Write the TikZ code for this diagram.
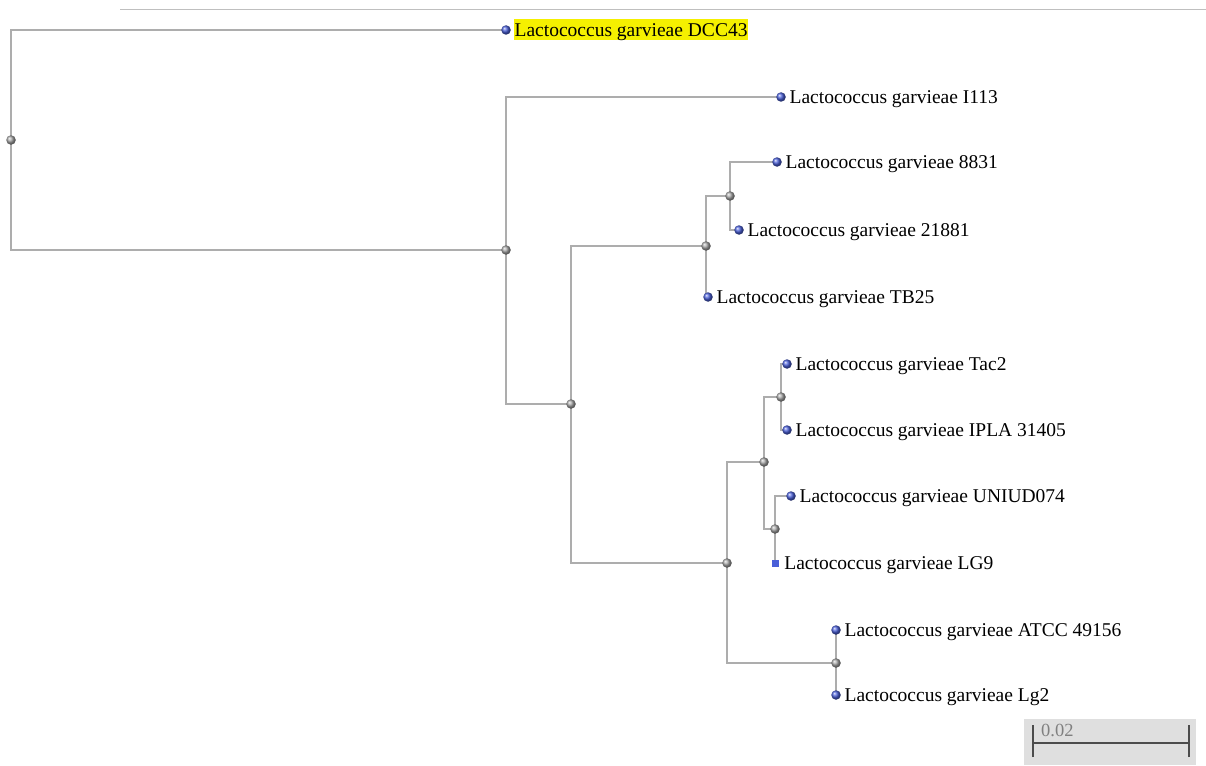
\documentclass[tikz,border=0pt]{standalone}
\usepackage{fontspec}
\setmainfont{Liberation Serif}
\usetikzlibrary{positioning,backgrounds,shadings}
\definecolor{branchgray}{HTML}{ADADAD}
\definecolor{leafblue}{HTML}{4A5FD8}
\definecolor{hilite}{HTML}{F5F000}
\tikzset{
  inner/.style={circle, inner sep=0pt, minimum size=9.5pt, ball color=gray!70},
  leaf/.style={circle, inner sep=0pt, minimum size=9.5pt, ball color=leafblue},
  leafsq/.style={rectangle, inner sep=0pt, minimum size=7pt, fill=leafblue},
  branch/.style={draw=branchgray, line width=1.2pt},
  taxon/.style={inner sep=1pt, font=\fontsize{19.5}{21}\selectfont, text height=16pt, text depth=3pt}
}
\newcommand{\Taxon}[3][]{\node[taxon, right=2.5pt of #2, #1] (#2-t) {#3};}

\begin{document}
\begin{tikzpicture}[x=1pt,y=-1pt]
\useasboundingbox (0,0) rectangle (1206,765);
\draw[draw=gray!50, line width=1pt] (120,9.5) -- (1206,9.5);

\node[inner] (root) at (11,140) {};
	\node[leaf] (dcc) at (506,30) {};
	\node[inner] (n1) at (506,250) {};
	\node[leaf] (i113) at (781,97) {};
	\node[inner] (n2) at (571,404) {};
	\node[inner] (n3) at (706,246) {};
	\node[inner] (n4) at (730,196) {};
	\node[leaf] (s8831) at (777,162) {};
	\node[leaf] (s21881) at (739,230) {};
	\node[leaf] (tb25) at (708,297) {};
	\node[inner] (n5) at (727,563) {};
	\node[inner] (n6) at (764,462) {};
	\node[inner] (n7) at (781,397) {};
	\node[leaf] (tac2) at (787,364) {};
	\node[leaf] (ipla) at (787,430) {};
	\node[inner] (n8) at (775,529) {};
	\node[leaf] (uniud) at (791,496) {};
	\node[leafsq] (lg9) at (775,563) {};
	\node[inner] (n9) at (836,663) {};
	\node[leaf] (atcc) at (836,630) {};
	\node[leaf] (lg2) at (836,695) {};
	
	\begin{scope}[on background layer]
	\draw[branch] (root.center) |- (dcc.center);
	\draw[branch] (root.center) |- (n1.center);
	
	\draw[branch] (n1.center) |- (i113.center);
	\draw[branch] (n1.center) |- (n2.center);
	
	\draw[branch] (n2.center) |- (n3.center);
	\draw[branch] (n2.center) |- (n5.center);
	
	\draw[branch] (n3.center) |- (n4.center);
	\draw[branch] (n3.center) |- (tb25.center);
	\draw[branch] (n4.center) |- (s8831.center);
	\draw[branch] (n4.center) |- (s21881.center);
	
	\draw[branch] (n5.center) |- (n6.center);
	\draw[branch] (n5.center) |- (n9.center);
	\draw[branch] (n6.center) |- (n7.center);
	\draw[branch] (n6.center) |- (n8.center);
	\draw[branch] (n7.center) |- (tac2.center);
	\draw[branch] (n7.center) |- (ipla.center);
	\draw[branch] (n8.center) |- (uniud.center);
	\draw[branch] (n8.center) |- (lg9.center);
	\draw[branch] (n9.center) |- (atcc.center);
	\draw[branch] (n9.center) |- (lg2.center);
	\end{scope}
	
	\Taxon[fill=hilite]{dcc}{Lactococcus garvieae DCC43}
	\Taxon{i113}{Lactococcus garvieae I113}
	\Taxon{s8831}{Lactococcus garvieae 8831}
	\Taxon{s21881}{Lactococcus garvieae 21881}
	\Taxon{tb25}{Lactococcus garvieae TB25}
	\Taxon{tac2}{Lactococcus garvieae Tac2}
	\Taxon{ipla}{Lactococcus garvieae IPLA 31405}
	\Taxon{uniud}{Lactococcus garvieae UNIUD074}
	\Taxon[right=4.5pt of lg9]{lg9}{Lactococcus garvieae LG9}
	\Taxon{atcc}{Lactococcus garvieae ATCC 49156}
	\Taxon{lg2}{Lactococcus garvieae Lg2}
	
	\fill[gray!25] (1024,719) rectangle (1196,765);
	\coordinate (bar-l) at (1033,743);
	\coordinate (bar-r) at (1189,743);
	\draw[line width=2pt, draw=black!70] (bar-l) -- (bar-r);
	\draw[line width=2pt, draw=black!70] ([yshift=-14pt]bar-l) -- ([yshift=18pt]bar-l);
	\draw[line width=2pt, draw=black!70] ([yshift=-14pt]bar-r) -- ([yshift=18pt]bar-r);
	\node[text=gray, font=\fontsize{18.5}{20}\selectfont, anchor=west, inner sep=0pt] (bar-t) at (1041,730) {0.02};

\end{tikzpicture}
\end{document}
